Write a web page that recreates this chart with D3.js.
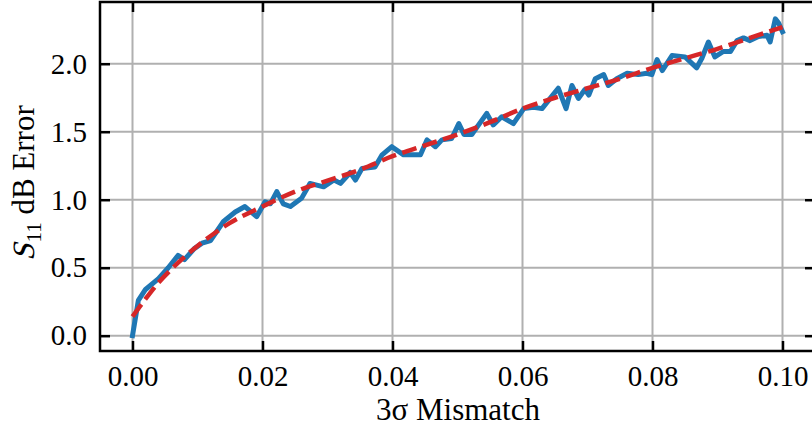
<!DOCTYPE html>
<html>
<head>
<meta charset="utf-8">
<script src="https://cdn.jsdelivr.net/npm/d3@7"></script>
<style>
  body { margin: 0; background: #fff; }
  text { font-family: "Liberation Serif", "DejaVu Serif", serif; fill: #000; }
</style>
</head>
<body>
<div id="chart"></div>
<script>
// measured 3-sigma mismatch vs S11 dB error (blue)
const mismatch = [0.0000, 0.0009, 0.0020, 0.0040, 0.0055, 0.0070, 0.0080, 0.0095, 0.0107, 0.0120,
  0.0140, 0.0158, 0.0173, 0.0191, 0.0204, 0.0212, 0.0222, 0.0232, 0.0243, 0.0260,
  0.0273, 0.0294, 0.0310, 0.0320, 0.0335, 0.0343, 0.0353, 0.0373, 0.0384, 0.0399,
  0.0417, 0.0443, 0.0453, 0.0466, 0.0476, 0.0491, 0.0502, 0.0510, 0.0522, 0.0545,
  0.0555, 0.0568, 0.0586, 0.0602, 0.0617, 0.0630, 0.0645, 0.0655, 0.0667, 0.0676,
  0.0686, 0.0696, 0.0702, 0.0712, 0.0725, 0.0732, 0.0745, 0.0761, 0.0778, 0.0791,
  0.0799, 0.0807, 0.0815, 0.0830, 0.0850, 0.0868, 0.0876, 0.0886, 0.0896, 0.0909,
  0.0920, 0.0930, 0.0940, 0.0950, 0.0963, 0.0976, 0.0981, 0.0989, 0.0994, 0.1000];
const dbError = [0.00, 0.26, 0.34, 0.42, 0.50, 0.59, 0.56, 0.64, 0.68, 0.70,
  0.84, 0.91, 0.95, 0.875, 0.985, 0.97, 1.06, 0.97, 0.95, 1.01,
  1.12, 1.095, 1.145, 1.12, 1.20, 1.145, 1.23, 1.24, 1.33, 1.39,
  1.33, 1.33, 1.44, 1.39, 1.44, 1.45, 1.56, 1.48, 1.48, 1.635,
  1.55, 1.61, 1.56, 1.67, 1.68, 1.67, 1.76, 1.82, 1.67, 1.84,
  1.745, 1.81, 1.77, 1.89, 1.92, 1.84, 1.89, 1.93, 1.92, 1.93,
  1.92, 2.03, 1.95, 2.06, 2.05, 1.97, 2.04, 2.16, 2.05, 2.09,
  2.09, 2.17, 2.19, 2.17, 2.20, 2.21, 2.16, 2.33, 2.30, 2.235];

// fitted trend (red dashed)
const fitX = [0.000, 0.002, 0.004, 0.006, 0.008, 0.010, 0.0125, 0.015, 0.020, 0.025,
  0.030, 0.035, 0.040, 0.045, 0.050, 0.055, 0.060, 0.065, 0.070, 0.075,
  0.080, 0.085, 0.090, 0.095, 0.100];
const fitY = [0.14, 0.27, 0.39, 0.49, 0.58, 0.66, 0.75, 0.83, 0.95, 1.06,
  1.14, 1.22, 1.32, 1.40, 1.48, 1.57, 1.67, 1.75, 1.82, 1.89,
  1.97, 2.04, 2.11, 2.19, 2.27];

const xTicks = [0.00, 0.02, 0.04, 0.06, 0.08, 0.10];
const yTicks = [0.0, 0.5, 1.0, 1.5, 2.0];

const W = 812, H = 434;
const pL = 100, pR = 815, pT = 2, pB = 351;

const svg = d3.select("#chart").append("svg")
  .attr("width", W).attr("height", H);

const x = d3.scaleLinear().domain([-0.005, 0.105]).range([pL, pR]);
const y = d3.scaleLinear().domain([-0.1125, 2.454]).range([pB, pT]);

svg.append("defs").append("clipPath").attr("id", "plot")
  .append("rect").attr("x", pL).attr("y", pT)
  .attr("width", pR - pL).attr("height", pB - pT);

// grid
const grid = svg.append("g").attr("stroke", "#b0b0b0").attr("stroke-width", 2);
grid.selectAll(".gx").data(xTicks).enter().append("line")
  .attr("x1", d => x(d)).attr("x2", d => x(d)).attr("y1", pT).attr("y2", pB);
grid.selectAll(".gy").data(yTicks).enter().append("line")
  .attr("x1", pL).attr("x2", pR).attr("y1", d => y(d)).attr("y2", d => y(d));

// series
const blue = mismatch.map((m, i) => [m, dbError[i]]);
const red = fitX.map((m, i) => [m, fitY[i]]);
const line = d3.line().x(d => x(d[0])).y(d => y(d[1]));

const plot = svg.append("g").attr("clip-path", "url(#plot)");
plot.append("path").datum(blue)
  .attr("d", line)
  .attr("fill", "none").attr("stroke", "#1f77b4")
  .attr("stroke-width", 5).attr("stroke-linejoin", "round").attr("stroke-linecap", "square");
plot.append("path").datum(red)
  .attr("d", line.curve(d3.curveMonotoneX))
  .attr("fill", "none").attr("stroke", "#d62728")
  .attr("stroke-width", 4.5).attr("stroke-dasharray", "15,6.5");

// axes, ticks pointing inward on all sides
const tickLen = 10;
const fmtX = d3.format(".2f"), fmtY = d3.format(".1f");

svg.append("g").attr("transform", `translate(0,${pB})`)
  .call(d3.axisBottom(x).tickValues(xTicks).tickSize(-tickLen).tickPadding(14).tickFormat(fmtX))
  .call(g => g.select(".domain").remove())
  .call(g => g.selectAll("line").attr("stroke", "#000").attr("stroke-width", 2.5))
  .call(g => g.selectAll("text").attr("font-size", 29).attr("font-family", "Liberation Serif"));

svg.append("g").attr("transform", `translate(0,${pT})`)
  .call(d3.axisTop(x).tickValues(xTicks).tickSize(-tickLen).tickFormat(""))
  .call(g => g.select(".domain").remove())
  .call(g => g.selectAll("line").attr("stroke", "#000").attr("stroke-width", 2.5));

svg.append("g").attr("transform", `translate(${pL},0)`)
  .call(d3.axisLeft(y).tickValues(yTicks).tickSize(-tickLen).tickPadding(13).tickFormat(fmtY))
  .call(g => g.select(".domain").remove())
  .call(g => g.selectAll("line").attr("stroke", "#000").attr("stroke-width", 2.5))
  .call(g => g.selectAll("text").attr("font-size", 29).attr("font-family", "Liberation Serif"));

svg.append("g").attr("transform", `translate(${pR},0)`)
  .call(d3.axisRight(y).tickValues(yTicks).tickSize(-tickLen).tickFormat(""))
  .call(g => g.select(".domain").remove())
  .call(g => g.selectAll("line").attr("stroke", "#000").attr("stroke-width", 2.5));

// frame
svg.append("rect").attr("x", pL).attr("y", pT)
  .attr("width", pR - pL).attr("height", pB - pT)
  .attr("fill", "none").attr("stroke", "#000").attr("stroke-width", 2.5);

// labels
svg.append("text")
  .attr("x", 458).attr("y", 420)
  .attr("text-anchor", "middle").attr("font-size", 31)
  .text("3σ Mismatch");

// y label: italic S with subscript 11, built piecewise then centred
const yl = svg.append("g");
const sPart = yl.append("text").attr("font-size", 31).attr("transform", "skewX(-14)").text("S");
const sW = sPart.node().getComputedTextLength();
const sub = yl.append("text").attr("font-size", 21).attr("x", sW + 1).attr("y", 7).text("11");
const subW = sub.node().getComputedTextLength();
const rest = yl.append("text").attr("font-size", 31).attr("x", sW + subW + 1).text("\u00a0dB Error");
const total = sW + subW + 1 + rest.node().getComputedTextLength();
yl.attr("transform", `translate(34,${183 + total / 2}) rotate(-90)`);
</script>
</body>
</html>
